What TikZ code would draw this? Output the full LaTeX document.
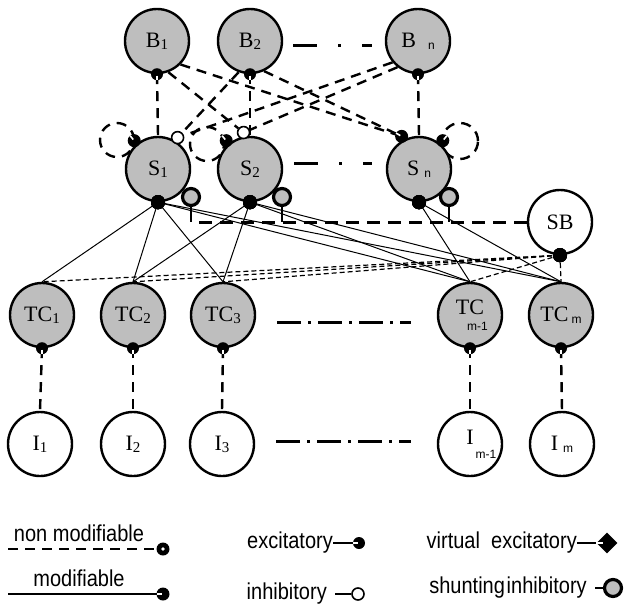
\documentclass[tikz,border=0pt]{standalone}
\usepackage{fontspec}
\setmainfont{Liberation Serif}
\setsansfont{Liberation Sans}
\usetikzlibrary{
    calc,
    shapes.geometric
}
\definecolor{cellgray}{RGB}{190,190,190}
\pgfdeclarelayer{bg}
\pgfsetlayers{bg,main}
\newcommand{\dsub}[1]{\raisebox{-2pt}{\fontsize{15}{15}\selectfont #1}}
\newcommand{\lsub}[1]{\raisebox{-2pt}{\sffamily\fontsize{12}{12}\selectfont #1}}
\newcommand{\legtxt}[1]{\scalebox{0.87}[1]{#1}}
\newcommand{\excdot}[3][6pt]{%
  \fill (#2) circle (#1);
  \draw[white,line width=1.6pt] ($(#2)+(#3:1.5pt)$) -- ($(#2)+(#3:#1)$);}
\tikzset{
  cell/.style={
    draw,
    circle,
    line width=2.4pt,
    minimum size=64pt,
    inner sep=0pt,
    fill=cellgray,
    font=\fontsize{22}{22}\selectfont
  },
  inputcell/.style={cell,fill=white},
  shunt/.style={draw,circle,line width=3.2pt,minimum size=17pt,inner sep=0pt,fill=cellgray},
  inh/.style={draw,circle,fill=white,line width=1.6pt,minimum size=12pt,inner sep=0pt},
  fixedline/.style={line width=2.4pt,dash pattern=on 10pt off 7pt},
  plastic/.style={line width=1pt},
  sbline/.style={line width=1.2pt,dash pattern=on 5pt off 3pt},
  shuntbus/.style={line width=3pt,dash pattern=on 13pt off 8pt},
  rowdots/.style={line width=3pt,dash pattern=on 24pt off 7pt on 3pt off 7pt},
  toprowdots/.style={line width=3pt,dash pattern=on 24pt off 21pt on 3pt off 21pt},
  legtext/.style={font=\sffamily\fontsize{23}{23}\selectfont,inner sep=0pt}
}

\begin{document}
\begin{tikzpicture}[x=1pt,y=-1pt]
    \useasboundingbox (0,0) rectangle (630,606);

    % ノード
    \node[cell] (B1) at (157,41) {B\dsub{1}};
    \node[cell] (B2) at (250,41) {B\dsub{2}};
    \node[cell] (Bn) at (418,41) {B\hspace{12pt}\lsub{n}};

    \node[cell] (S1) at (158,169) {S\dsub{1}};
    \node[cell] (S2) at (250,169) {S\dsub{2}};
    \node[cell] (Sn) at (419,169) {S\hspace{5pt}\lsub{n}};

    \node[inputcell] (SB) at (560,222) {SB};

    \node[cell] (TC1) at (42,315) {TC\dsub{1}};
    \node[cell] (TC2) at (133,315) {TC\dsub{2}};
    \node[cell] (TC3) at (223,315) {TC\dsub{3}};
    \node[cell] (TCm1) at (470,315) {TC\rlap{\hspace{-17pt}\raisebox{-16pt}{\sffamily\fontsize{12}{12}\selectfont m-1}}};
    \node[cell] (TCm) at (561,315) {TC\hspace{3pt}\lsub{m}};

    \node[inputcell] (I1) at (40,444) {I\dsub{1}};
    \node[inputcell] (I2) at (133,444) {I\dsub{2}};
    \node[inputcell] (I3) at (222,444) {I\dsub{3}};
    \node[inputcell] (Im1) at (470,444) {I\rlap{\hspace{2pt}\raisebox{-14pt}{\sffamily\fontsize{12}{12}\selectfont m-1}}};
    \node[inputcell] (Im) at (562,444) {I\hspace{5pt}\lsub{m}};

    \node[shunt] (sh1) at (191,197) {};
    \node[shunt] (sh2) at (282,197) {};
    \node[shunt] (shn) at (449,197) {};

    \node[inh] (S1i) at ($(S1)+(58:37pt)$) {};
    \node[inh] (S2i) at ($(S2)+(100:37pt)$) {};
    \coordinate (Snx) at ($(Sn)+(118:37pt)$);
    \coordinate (S1self) at ($(S1)+(130:37pt)$);
    \coordinate (S2self) at ($(S2)+(130:37pt)$);
    \coordinate (Snself) at ($(Sn)+(50:37pt)$);

    % 自己結合
    \begin{pgfonlayer}{bg}
        \draw[fixedline] (117,140) circle (17pt);
        \draw[fixedline] (207,144) circle (17pt);
        \draw[fixedline] (460,141) circle (18pt);
    \end{pgfonlayer}

    % B - S
    \foreach \i in {1,2,n}
        \draw[fixedline] (B\i.south) -- (S\i.north);
    \draw[fixedline] (B1.-70) -- (S2i);
    \draw[fixedline] (B2.-110) -- (S1i);
    \draw[fixedline] (B1.-45) -- (Snx);
    \draw[fixedline] (B2.-65) -- (Snx);
    \draw[fixedline] (Bn.-140) -- (S1i);
    \draw[fixedline] (Bn.-128) -- (S2i);

    % S - TC
    \foreach \t in {TC1,TC2,TC3,TCm1,TCm}
        \draw[plastic] (S1.south) -- (\t.north);
    \foreach \t in {TC2,TC3,TCm1,TCm}
        \draw[plastic] (S2.south) -- (\t.north);
    \foreach \t in {TCm1,TCm}
        \draw[plastic] (Sn.south) -- (\t.north);

    % SB
    \foreach \t in {TC1,TC2,TC3,TCm1,TCm}
        \draw[sbline] (SB.south) -- (\t.north);
    \draw[shuntbus] (SB.west) -- (SB.west -| sh1.south);
    \foreach \s in {sh1,sh2,shn}
        \draw[line width=2.5pt] (\s.south) -- (\s.south |- SB.west);

    % TC - I
    \foreach \i in {1,2,3,m1,m}
        \draw[fixedline] (TC\i.south) -- (I\i.north);

    % 省略
    \draw[toprowdots] ($(B2.east)+(10,4)$) -- ($(Bn.west)+(-13,4)$);
    \draw[toprowdots] ($(S2.east)+(11,-6)$) -- ($(Sn.west)+(-14,-6)$);
    \draw[rowdots] ($(TC3.east)+(21,7)$) -- ($(TCm1.west)+(-26,7)$);
    \draw[rowdots] ($(I3.east)+(21,-3)$) -- ($(Im1.west)+(-26,-3)$);

    % シナプス
    \foreach \n in {B1,B2,Bn,TC1,TC2,TC3,TCm1,TCm}
        \excdot{\n.south}{-90}
    \foreach \n in {S1,S2,Sn,SB}
        \fill (\n.south) circle (7pt);
    \excdot[6.5pt]{S1self}{130}
    \excdot[6.5pt]{S2self}{130}
    \excdot[6.5pt]{Snself}{50}
    \excdot[6.5pt]{Snx}{150}

    % 凡例
    \node[legtext] (lnon) at (79,533) {\legtxt{non modifiable}};
    \coordinate (lnonA) at (8,549);
    \coordinate (lnonB) at (163,549);
    \draw[fixedline] (lnonA) -- (lnonB);
    \fill (lnonB) circle (6.5pt);
    \fill[white] (lnonB) circle (1.8pt);

    \node[legtext] (lmod) at (79,578) {\legtxt{modifiable}};
    \coordinate (lmodA) at (8,594);
    \coordinate (lmodB) at (163,594);
    \draw[line width=2pt] (lmodA) -- (lmodB);
    \excdot[6.5pt]{lmodB}{180}

    \node[legtext,anchor=east] (lexc) at (333,543) {\legtxt{excitatory}};
    \coordinate (lexcB) at (359,543);
    \draw[line width=2.5pt] (lexc.east) -- (lexcB);
    \excdot{lexcB}{180}

    \node[legtext,anchor=east] (linh) at (327,594) {\legtxt{inhibitory}};
    \node[inh] (linhB) at (358,594) {};
    \draw[line width=2.5pt] ($(linh.east)+(8,0)$) -- (linhB.west);

    \node[legtext,anchor=east] (lvir) at (577,543) {\legtxt{virtual\ \ excitatory}};
    \node[diamond,fill=black,minimum size=21pt,inner sep=0pt] (lvirB) at (607,543) {};
    \draw[line width=2.5pt] (lvir.east) -- (lvirB.west);
    \draw[white,line width=1.6pt] (lvirB.west) -- ++(7,0);

    \node[legtext,anchor=east] (lshu) at (587,588) {\legtxt{shunting\hspace{2pt}inhibitory}};
    \node[shunt,minimum size=17pt] (lshuB) at (613,588) {};
    \draw[line width=2.5pt] ($(lshu.east)+(8,0)$) -- (lshuB.west);
\end{tikzpicture}
\end{document}
